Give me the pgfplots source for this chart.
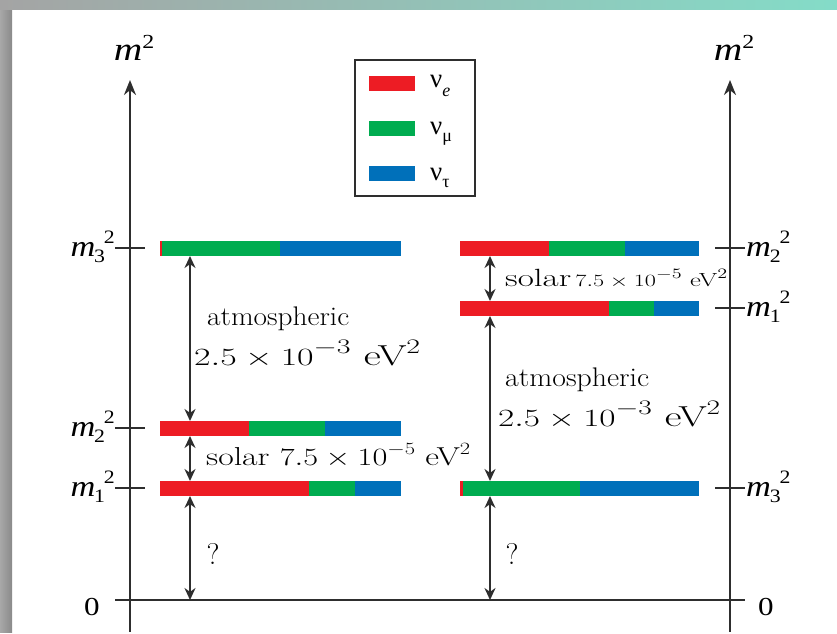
\documentclass[border=0pt]{standalone}
\usepackage{pgfplots}
\pgfplotsset{compat=1.18}
\usepackage{fontspec}
\usepackage{graphicx}
\usetikzlibrary{arrows.meta}
\newfontfamily\tms{Liberation Serif}
\definecolor{nured}{HTML}{ED1C24}
\definecolor{nugreen}{HTML}{00AC50}
\definecolor{nublue}{HTML}{0070BA}
\definecolor{axgray}{HTML}{2E2E2E}
\definecolor{bgA}{HTML}{A8A8A8}
\definecolor{bgB}{HTML}{8A8A8A}
\definecolor{topA}{HTML}{A4A4A4}
\definecolor{topM}{HTML}{92BDB8}
\definecolor{topB}{HTML}{84DCC8}
\newcommand\bbar[5]{\addplot[draw=none, fill=#5] coordinates {(#1,#3) (#2,#3) (#2,#4) (#1,#4)} -- cycle;}
\newcommand\mlab[1]{\scalebox{1.15}[1]{\tms\fontsize{30}{30}\selectfont\itshape m\kern-1bp\raisebox{-6bp}{\upshape\fontsize{19}{19}\selectfont #1}\kern-1bp\raisebox{13bp}{\upshape\fontsize{19}{19}\selectfont 2}}}
\newcommand\mtop{\scalebox{1.2}[1]{\tms\fontsize{33}{33}\selectfont\itshape m\raisebox{12bp}{\upshape\fontsize{20}{20}\selectfont 2}}}
\newcommand\supA[1]{\raisebox{12bp}{\fontsize{21}{21}\selectfont$#1$}}
\newcommand\supB[1]{\raisebox{11bp}{\fontsize{19}{19}\selectfont$#1$}}
\newcommand\supC[1]{\raisebox{8bp}{\fontsize{14}{14}\selectfont$#1$}}
\newcommand\atmval{\fontsize{29}{29}\selectfont$2.5\times10$\supA{-3}\hspace{9bp}eV\supA{2}}
\newcommand\arr{{Stealth[length=12bp,width=11bp]}-{Stealth[length=12bp,width=11bp]}}
\begin{document}
\begin{tikzpicture}
\begin{axis}[width=837bp, height=632bp, scale only axis, xmin=0, xmax=837, ymin=0, ymax=632,
  y dir=reverse, hide axis, clip=false]
% background
\addplot[draw=none, fill=white] coordinates {(0,0) (837,0) (837,632) (0,632)} -- cycle;
\addplot[draw=none, left color=bgA, right color=bgB] coordinates {(0,0) (12,0) (12,632) (0,632)} -- cycle;
\addplot[draw=none, left color=topA, middle color=topM, right color=topB] coordinates {(0,0) (837,0) (837,10) (0,10)} -- cycle;
% axes
\addplot[axgray, line width=2.2bp, -{Stealth[length=15bp,width=12bp]}] coordinates {(130,632) (130,80)};
\addplot[axgray, line width=2.2bp, -{Stealth[length=15bp,width=12bp]}] coordinates {(730,632) (730,80)};
\addplot[axgray, line width=2.4bp] coordinates {(115,600) (745,600)};
% ticks
\addplot[axgray, line width=2.2bp] coordinates {(115,248) (145,248)};
\addplot[axgray, line width=2.2bp] coordinates {(115,428) (145,428)};
\addplot[axgray, line width=2.2bp] coordinates {(115,488) (145,488)};
\addplot[axgray, line width=2.2bp] coordinates {(715,248) (745,248)};
\addplot[axgray, line width=2.2bp] coordinates {(715,308) (745,308)};
\addplot[axgray, line width=2.2bp] coordinates {(715,488) (745,488)};
% left (normal ordering) bars
\bbar{160}{162}{241}{256}{nured}
\bbar{162}{280}{241}{256}{nugreen}
\bbar{280}{401}{241}{256}{nublue}
\bbar{160}{249}{421}{436}{nured}
\bbar{249}{325}{421}{436}{nugreen}
\bbar{325}{401}{421}{436}{nublue}
\bbar{160}{309}{481}{496}{nured}
\bbar{309}{355}{481}{496}{nugreen}
\bbar{355}{401}{481}{496}{nublue}
% right (inverted ordering) bars
\bbar{460}{549}{241}{256}{nured}
\bbar{549}{625}{241}{256}{nugreen}
\bbar{625}{699}{241}{256}{nublue}
\bbar{460}{609}{301}{316}{nured}
\bbar{609}{654}{301}{316}{nugreen}
\bbar{654}{699}{301}{316}{nublue}
\bbar{460}{463}{481}{496}{nured}
\bbar{463}{580}{481}{496}{nugreen}
\bbar{580}{699}{481}{496}{nublue}
% arrows
\addplot[axgray, line width=1.9bp, \arr] coordinates {(190,256) (190,421)};
\addplot[axgray, line width=1.9bp, \arr] coordinates {(190,436) (190,481)};
\addplot[axgray, line width=1.9bp, \arr] coordinates {(190,496) (190,600)};
\addplot[axgray, line width=1.9bp, \arr] coordinates {(490,256) (490,301)};
\addplot[axgray, line width=1.9bp, \arr] coordinates {(490,316) (490,481)};
\addplot[axgray, line width=1.9bp, \arr] coordinates {(490,496) (490,600)};
% legend
\addplot[draw=axgray, line width=2bp, fill=white] coordinates {(355,60) (475,60) (475,196) (355,196)} -- cycle;
\bbar{369}{415}{76}{91}{nured}
\bbar{369}{415}{121}{136}{nugreen}
\bbar{369}{415}{166}{181}{nublue}
\node[anchor=base west, inner sep=0pt] at (axis cs:430,88) {\tms\fontsize{27}{27}\selectfont ν\raisebox{-9bp}{\fontsize{18}{18}\selectfont\itshape e}};
\node[anchor=base west, inner sep=0pt] at (axis cs:430,134) {\tms\fontsize{27}{27}\selectfont ν\raisebox{-7bp}{\fontsize{18}{18}\selectfont μ}};
\node[anchor=base west, inner sep=0pt] at (axis cs:430,180) {\tms\fontsize{27}{27}\selectfont ν\raisebox{-7bp}{\fontsize{18}{18}\selectfont τ}};
% axis titles
\node[anchor=base, inner sep=0pt] at (axis cs:134,61) {\mtop};
\node[anchor=base, inner sep=0pt] at (axis cs:734,61) {\mtop};
% level labels
\node[anchor=base east, inner sep=0pt] at (axis cs:115,256) {\mlab{3}};
\node[anchor=base east, inner sep=0pt] at (axis cs:115,436) {\mlab{2}};
\node[anchor=base east, inner sep=0pt] at (axis cs:115,496) {\mlab{1}};
\node[anchor=base west, inner sep=0pt] at (axis cs:746,256) {\mlab{2}};
\node[anchor=base west, inner sep=0pt] at (axis cs:746,316) {\mlab{1}};
\node[anchor=base west, inner sep=0pt] at (axis cs:746,496) {\mlab{3}};
\node[anchor=base, inner sep=0pt] at (axis cs:92,615) {\scalebox{1.2}[1]{\tms\fontsize{26}{26}\selectfont 0}};
\node[anchor=base, inner sep=0pt] at (axis cs:766,615) {\scalebox{1.2}[1]{\tms\fontsize{26}{26}\selectfont 0}};
% annotations
\node[anchor=base west, inner sep=0pt] at (axis cs:207,325) {\resizebox{142bp}{\height}{\fontsize{27}{27}\selectfont atmospheric}};
\node[anchor=base west, inner sep=0pt] at (axis cs:194,365) {\resizebox{226bp}{\height}{\atmval}};
\node[anchor=base west, inner sep=0pt] at (axis cs:505,386) {\resizebox{144bp}{\height}{\fontsize{27}{27}\selectfont atmospheric}};
\node[anchor=base west, inner sep=0pt] at (axis cs:498,426) {\resizebox{222bp}{\height}{\atmval}};
\node[anchor=base west, inner sep=0pt] at (axis cs:206,465) {\resizebox{264bp}{\height}{\fontsize{26}{26}\selectfont solar $7.5\times10$\supB{-5}\hspace{8bp}eV\supB{2}}};
\node[anchor=base west, inner sep=0pt] at (axis cs:505,286) {\resizebox{222bp}{\height}{\fontsize{25}{25}\selectfont solar\hspace{3bp}{\fontsize{19}{19}\selectfont$7.5\times10$\supC{-5}\hspace{6bp}eV\supC{2}}}};
\node[anchor=base, inner sep=0pt] at (axis cs:213,564) {\fontsize{30}{30}\selectfont ?};
\node[anchor=base, inner sep=0pt] at (axis cs:512,564) {\fontsize{30}{30}\selectfont ?};
\end{axis}
\end{tikzpicture}
\end{document}
